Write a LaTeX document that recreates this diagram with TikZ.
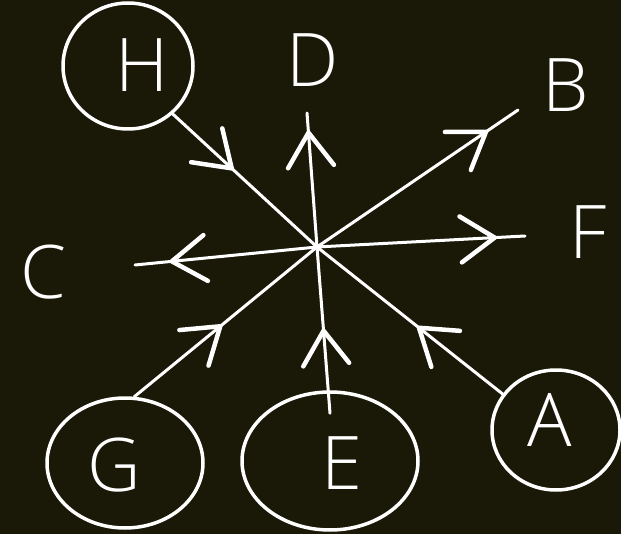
\documentclass[tikz,border=0pt]{standalone}
\usepackage{fontspec}
\IfFontExistsTF{Open Sans Light}{\setmainfont{Open Sans Light}}{\setmainfont{Open Sans}}
\usetikzlibrary{shapes.geometric,arrows.meta,decorations.markings,calc}
\definecolor{bg}{RGB}{26,24,6}
\begin{document}
\begin{tikzpicture}[x=1pt,y=-1pt,
  chalk/.style={draw=white,line width=3pt,line cap=round,line join=round},
  ring/.style={chalk,line width=3.5pt,ellipse,inner sep=0pt},
  letter/.style={text=white,font=\fontsize{74}{74}\selectfont,inner sep=0pt},
  marrow/.style={postaction={decorate},decoration={markings,mark=at position #1 with {\arrow{Straight Barb[length=34pt,width=46pt,line width=4.5pt,round]}}}}
]
\fill[bg] (0,0) rectangle (621,534);
\useasboundingbox (0,0) rectangle (621,534);

\coordinate (O) at (317,247);

\node[ring,minimum width=130pt,minimum height=126pt] (H) at (128,66) {};
\node[letter] (hL) at (142,65) {H};
\node[ring,minimum width=156pt,minimum height=130pt] (G) at (125,463) {};
\node[letter] (gL) at (114,465) {G};
\node[ring,minimum width=176pt,minimum height=138pt] (E) at (330,461) {};
\node[letter] (eL) at (342,463) {E};
\node[ring,minimum width=128pt,minimum height=120pt] (A) at (556,430) {};
\node[letter] (aL) at (550,420) {A};

\node[letter] (D) at (313,60) {D};
\node[letter] (B) at (566,85) {B};
\node[letter] (F) at (588,232) {F};
\node[letter] (C) at (43,272) {C};

\coordinate (dEnd) at (307,113);
\coordinate (bEnd) at (518,110);
\coordinate (fEnd) at (525,236);
\coordinate (cEnd) at (135,265);
\coordinate (eStart) at ($(E.north)+(0,23)$);

\draw[chalk,marrow=0.42] (H.-47) -- (O);
\draw[chalk,marrow=0.87] (O) -- (dEnd);
\draw[chalk,marrow=0.85] (O) -- (bEnd);
\draw[chalk,marrow=0.865] (O) -- (fEnd);
\draw[chalk,marrow=0.81] (O) -- (cEnd);
\draw[chalk,marrow=0.48] (G.82) -- (O);
\draw[chalk,marrow=0.51] (eStart) -- (O);
\draw[chalk,marrow=0.46] (A.146) -- (O);
\end{tikzpicture}
\end{document}
